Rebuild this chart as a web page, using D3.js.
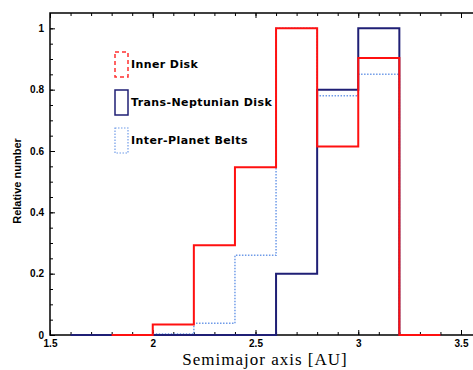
<!DOCTYPE html>
<html>
<head>
<meta charset="utf-8">
<script src="https://cdn.jsdelivr.net/npm/d3@7"></script>
<style>
  body { margin: 0; background: #fff; }
  svg { display: block; }
</style>
</head>
<body>
<svg id="chart" width="473" height="370"></svg>
<script>
// bin starts (AU), each bin 0.2 wide
var binStarts = [1.6, 1.8, 2.0, 2.2, 2.4, 2.6, 2.8, 3.0, 3.2];
var binWidth = 0.2;
var innerDisk = [null, 0, 0.034, 0.293, 0.547, 1.00, 0.615, 0.903, 0];
var transNeptunian = [0, 0, 0, 0, 0, 0.20, 0.80, 1.00, 0];
var interPlanet = [null, null, 0.003, 0.038, 0.26, 1.00, 0.78, 0.85, null];

var xMajor = [1.5, 2, 2.5, 3, 3.5];
var yMajor = [0, 0.2, 0.4, 0.6, 0.8, 1];
var legendLabels = ['Inner Disk', 'Trans-Neptunian Disk', 'Inter-Planet Belts'];

(function() {
    var svg = d3.select('#chart');
    var plotLeft = 50, plotTop = 13, plotBottom = 335;

    var x = d3.scaleLinear().domain([1.5, 3.6]).range([plotLeft, plotLeft + 2.1 * 205.5]);
    var y = d3.scaleLinear().domain([0, 1.05]).range([plotBottom, plotTop]);

    var xMinor = d3.range(15, 37).map(function(d) { return d / 10; });
    var yMinor = d3.range(0, 21).map(function(d) { return d / 20; });

    function strip(g) { g.select('.domain').remove(); }

    // minor ticks
    svg.append('g').attr('transform', 'translate(0,' + plotBottom + ')')
        .call(d3.axisBottom(x).tickValues(xMinor).tickSize(-3).tickFormat(''))
        .call(strip);
    svg.append('g').attr('transform', 'translate(0,' + plotTop + ')')
        .call(d3.axisTop(x).tickValues(xMinor).tickSize(-3).tickFormat(''))
        .call(strip);
    svg.append('g').attr('transform', 'translate(' + plotLeft + ',0)')
        .call(d3.axisLeft(y).tickValues(yMinor).tickSize(-3).tickFormat(''))
        .call(strip);

    // major ticks
    var xAxis = svg.append('g').attr('transform', 'translate(0,' + plotBottom + ')')
        .call(d3.axisBottom(x).tickValues(xMajor).tickSize(-5).tickPadding(5).tickFormat(d3.format('')))
        .call(strip);
    svg.append('g').attr('transform', 'translate(0,' + plotTop + ')')
        .call(d3.axisTop(x).tickValues(xMajor).tickSize(-5).tickFormat(''))
        .call(strip);
    var yAxis = svg.append('g').attr('transform', 'translate(' + plotLeft + ',0)')
        .call(d3.axisLeft(y).tickValues(yMajor).tickSize(-5).tickPadding(6).tickFormat(d3.format('')))
        .call(strip);

    svg.selectAll('.tick line').attr('stroke', '#000').attr('stroke-width', 1);
    [xAxis, yAxis].forEach(function(a) {
        a.selectAll('text')
            .attr('fill', '#000')
            .style('font-family', '"Liberation Sans", Arial, sans-serif')
            .style('font-size', '10px')
            .style('font-weight', 'bold');
    });

    // frame
    svg.append('path')
        .attr('d', 'M' + x(3.6) + ',' + plotTop + 'H' + plotLeft + 'V' + plotBottom + 'H' + x(3.6))
        .attr('fill', 'none').attr('stroke', '#000').attr('stroke-width', 1.5);

    // step outline from binned values
    function steps(values) {
        var pts = [];
        var last = null;
        values.forEach(function(v, i) {
            if (v === null) return;
            pts.push([binStarts[i], v]);
            pts.push([binStarts[i] + binWidth, v]);
            last = binStarts[i] + binWidth;
        });
        if (pts.length && pts[pts.length - 1][1] !== 0) pts.push([last, 0]);
        return pts;
    }
    var line = d3.line().x(function(d) { return x(d[0]); }).y(function(d) { return y(d[1]); });

    var series = [
        { values: interPlanet, color: '#6f9be8', width: 1.5, dash: '1.5,1.5' },
        { values: transNeptunian, color: '#1f1f75', width: 2, dash: null },
        { values: innerDisk, color: '#ff1010', width: 2, dash: null }
    ];

    series.forEach(function(s) {
        svg.append('path')
            .attr('d', line(steps(s.values)))
            .attr('fill', 'none')
            .attr('stroke', s.color)
            .attr('stroke-width', s.width)
            .attr('stroke-dasharray', s.dash);
    });

    // legend
    var legendStyles = [
        { color: '#ff3030', dash: '4,3', width: 1.5 },
        { color: '#1f1f75', dash: null, width: 1.5 },
        { color: '#6f9be8', dash: '1.5,1.5', width: 1.2 }
    ];
    var legendTop = [52, 90, 128];
    legendLabels.forEach(function(label, i) {
        svg.append('rect')
            .attr('x', 115).attr('y', legendTop[i])
            .attr('width', 13).attr('height', 25)
            .attr('fill', 'none')
            .attr('stroke', legendStyles[i].color)
            .attr('stroke-width', legendStyles[i].width)
            .attr('stroke-dasharray', legendStyles[i].dash);
        svg.append('text')
            .attr('x', 131).attr('y', legendTop[i] + 16)
            .style('font-family', '"DejaVu Sans", sans-serif')
            .style('font-size', '11px')
            .style('font-weight', '600')
            .style('letter-spacing', '0.4px')
            .attr('fill', '#000')
            .text(label);
    });

    // axis titles
    svg.append('text')
        .attr('x', 265).attr('y', 365)
        .attr('text-anchor', 'middle')
        .style('font-family', '"Liberation Serif", "Times New Roman", serif')
        .style('font-size', '17px')
        .style('letter-spacing', '1px')
        .attr('fill', '#000')
        .text('Semimajor axis [AU]');

    svg.append('text')
        .attr('transform', 'translate(21,181) rotate(-90)')
        .attr('text-anchor', 'middle')
        .style('font-family', '"Liberation Sans", Arial, sans-serif')
        .style('font-size', '11px')
        .style('font-weight', 'bold')
        .attr('fill', '#000')
        .text('Relative number');
})();
</script>
</body>
</html>
